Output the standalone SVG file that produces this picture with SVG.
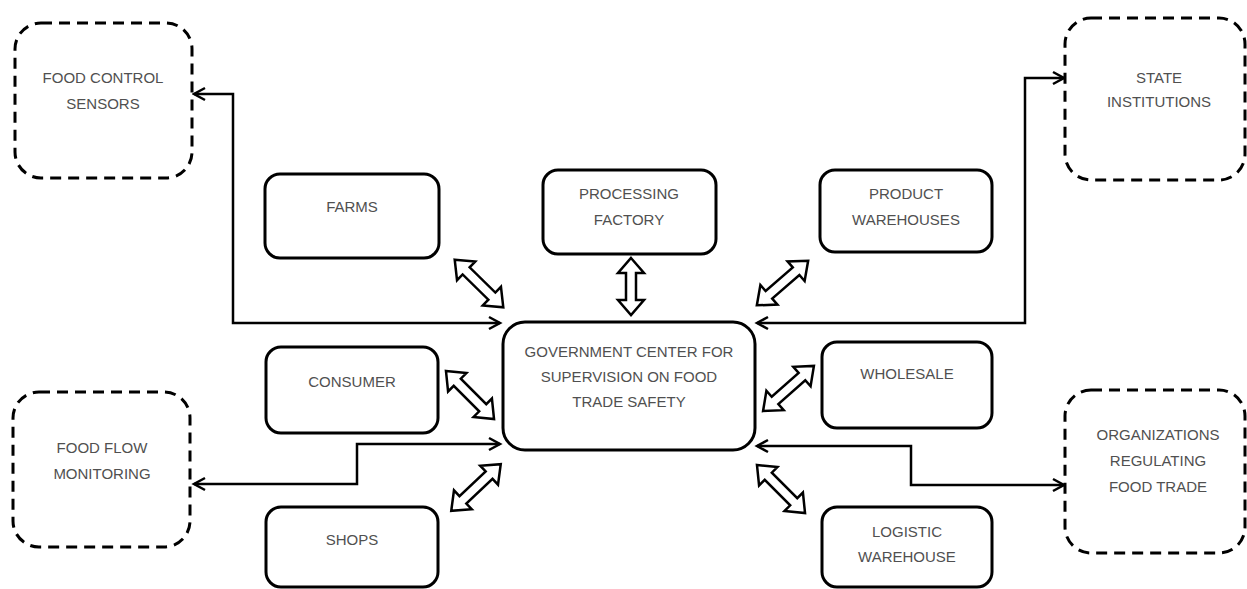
<svg xmlns="http://www.w3.org/2000/svg" width="1247" height="589" viewBox="0 0 1247 589">
<style>
.box{fill:#fff;stroke:#000;stroke-width:3}
.dbox{fill:#fff;stroke:#000;stroke-width:3;stroke-dasharray:11 7}
.t{font-family:"Liberation Sans",Arial,sans-serif;font-size:15px;fill:#505050;text-anchor:middle}
.con{fill:none;stroke:#000;stroke-width:2.5}
.dbl{fill:#fff;stroke:#000;stroke-width:2.5;stroke-linejoin:miter}
</style>
<defs>
<marker id="ah" markerUnits="userSpaceOnUse" markerWidth="16" markerHeight="16" refX="12" refY="7" orient="auto-start-reverse" viewBox="0 0 16 14">
<path d="M1,1 L12,7 L1,13" fill="none" stroke="#000" stroke-width="2.5"/>
</marker>
<path id="d68" d="M-34,0 L-18,-13 L-18,-5 L18,-5 L18,-13 L34,0 L18,13 L18,5 L-18,5 L-18,13 Z"/>
<path id="d57" d="M-28.5,0 L-13.5,-13 L-13.5,-5 L13.5,-5 L13.5,-13 L28.5,0 L13.5,13 L13.5,5 L-13.5,5 L-13.5,13 Z"/>
</defs>
<rect width="1247" height="589" fill="#fff"/>

<g id="connectors">
<path class="con" d="M500,323 H233 V94 H194" marker-start="url(#ah)" marker-end="url(#ah)"/>
<path class="con" d="M757,323 H1025 V78 H1064" marker-start="url(#ah)" marker-end="url(#ah)"/>
<path class="con" d="M500,444 H357 V484 H194" marker-start="url(#ah)" marker-end="url(#ah)"/>
<path class="con" d="M757,446 H911 V485 H1064" marker-start="url(#ah)" marker-end="url(#ah)"/>
<use href="#d68" class="dbl" transform="translate(479,283.5) rotate(44.4)"/>
<use href="#d57" class="dbl" transform="translate(631,286.5) rotate(90)"/>
<use href="#d68" class="dbl" transform="translate(782.5,283) rotate(-41)"/>
<use href="#d68" class="dbl" transform="translate(470,395) rotate(45)"/>
<use href="#d68" class="dbl" transform="translate(788.5,388.5) rotate(-41.6)"/>
<use href="#d68" class="dbl" transform="translate(476,487.5) rotate(-43.3)"/>
<use href="#d68" class="dbl" transform="translate(781,489) rotate(45)"/>
</g>

<g id="food-control-sensors">
<rect class="dbox" x="15" y="23" width="177" height="155" rx="26"/>
<text class="t" x="103" y="83">FOOD CONTROL</text>
<text class="t" x="103" y="109">SENSORS</text>
</g>
<g id="state-institutions">
<rect class="dbox" x="1065" y="18" width="180" height="162" rx="26"/>
<text class="t" x="1159" y="83">STATE</text>
<text class="t" x="1159" y="107">INSTITUTIONS</text>
</g>
<g id="food-flow-monitoring">
<rect class="dbox" x="13" y="392" width="177" height="155" rx="26"/>
<text class="t" x="102" y="453">FOOD FLOW</text>
<text class="t" x="102" y="479">MONITORING</text>
</g>
<g id="organizations">
<rect class="dbox" x="1065" y="390" width="180" height="163" rx="26"/>
<text class="t" x="1158" y="440">ORGANIZATIONS</text>
<text class="t" x="1158" y="466">REGULATING</text>
<text class="t" x="1158" y="492">FOOD TRADE</text>
</g>

<g id="farms">
<rect class="box" x="265" y="174" width="174" height="84" rx="15"/>
<text class="t" x="352" y="212">FARMS</text>
</g>
<g id="processing-factory">
<rect class="box" x="543" y="170" width="173" height="84" rx="15"/>
<text class="t" x="629" y="199">PROCESSING</text>
<text class="t" x="629" y="225">FACTORY</text>
</g>
<g id="product-warehouses">
<rect class="box" x="820" y="170" width="172" height="82" rx="15"/>
<text class="t" x="906" y="199">PRODUCT</text>
<text class="t" x="906" y="225">WAREHOUSES</text>
</g>
<g id="center">
<rect class="box" x="503" y="322" width="252" height="128" rx="22"/>
<text class="t" x="629" y="357">GOVERNMENT CENTER FOR</text>
<text class="t" x="629" y="382">SUPERVISION ON FOOD</text>
<text class="t" x="629" y="407">TRADE SAFETY</text>
</g>
<g id="consumer">
<rect class="box" x="266" y="347" width="172" height="86" rx="15"/>
<text class="t" x="352" y="387">CONSUMER</text>
</g>
<g id="wholesale">
<rect class="box" x="822" y="342" width="170" height="86" rx="15"/>
<text class="t" x="907" y="379">WHOLESALE</text>
</g>
<g id="shops">
<rect class="box" x="266" y="507" width="172" height="80" rx="15"/>
<text class="t" x="352" y="545">SHOPS</text>
</g>
<g id="logistic-warehouse">
<rect class="box" x="822" y="507" width="170" height="80" rx="15"/>
<text class="t" x="907" y="537">LOGISTIC</text>
<text class="t" x="907" y="562">WAREHOUSE</text>
</g>
</svg>
